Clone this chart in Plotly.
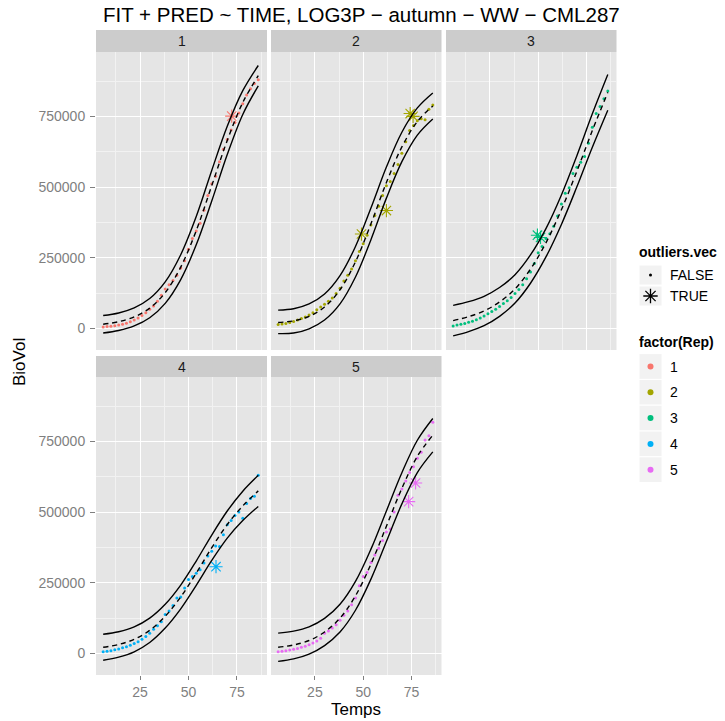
import plotly.graph_objects as go

# ---------------- data ----------------
rep_labels = ["1", "2", "3", "4", "5"]
rep_colors = ["#F8766D", "#A3A500", "#00BF7D", "#00B0F6", "#E76BF3"]

x_ticks = [25, 50, 75]
x_tick_labels = ["25", "50", "75"]
y_ticks = [0, 250000, 500000, 750000]
y_tick_labels = ["0", "250000", "500000", "750000"]

# fitted LOG3P curve with lower / upper prediction bounds
curve_time = [6, 14, 22, 30, 38, 46, 54, 62, 70, 78, 86]

fit_1 = [15000, 24000, 41000, 72000, 127000, 217000, 346000, 505000, 665000, 799000, 894000]
upr_1 = [46000, 55000, 73000, 106000, 165000, 261000, 396000, 559000, 715000, 841000, 930000]
lwr_1 = [-16000, -7000, 9000, 38000, 89000, 173000, 296000, 451000, 615000, 757000, 858000]

fit_2 = [21000, 27000, 43000, 76000, 137000, 236000, 370000, 516000, 642000, 732000, 787000]
upr_2 = [65000, 70000, 87000, 122000, 187000, 290000, 426000, 571000, 694000, 780000, 833000]
lwr_2 = [-18000, -16000, -1000, 30000, 87000, 182000, 314000, 461000, 590000, 684000, 741000]

fit_3 = [28000, 42000, 62000, 94000, 140000, 210000, 303000, 420000, 556000, 700000, 835000]
upr_3 = [82000, 95000, 114000, 145000, 190000, 260000, 353000, 472000, 611000, 759000, 898000]
lwr_3 = [-26000, -11000, 10000, 43000, 90000, 160000, 253000, 368000, 501000, 641000, 772000]

fit_4 = [22000, 32000, 50000, 82000, 132000, 200000, 284000, 374000, 456000, 522000, 575000]
upr_4 = [68000, 77000, 94000, 125000, 174000, 242000, 327000, 419000, 504000, 574000, 630000]
lwr_4 = [-24000, -13000, 6000, 39000, 90000, 158000, 241000, 329000, 408000, 470000, 520000]

fit_5 = [22000, 30000, 46000, 76000, 125000, 204000, 316000, 450000, 584000, 697000, 772000]
upr_5 = [72000, 79000, 94000, 124000, 174000, 255000, 369000, 504000, 639000, 754000, 831000]
lwr_5 = [-28000, -19000, -2000, 28000, 76000, 153000, 263000, 396000, 529000, 640000, 713000]

# observed BioVol (outliers.vec == FALSE)
obs_time = [6, 8, 10, 12, 14, 16, 18, 20, 22, 24,
            26, 28, 30, 32, 34, 36, 38, 40, 42, 44,
            46, 48, 50, 52, 54, 56, 58, 60, 62, 64,
            66, 68, 70, 72, 74, 76, 78, 80, 82, 84, 86]

obs_1 = [5000, 7000, 8000, 10000, 12000, 15000, 19000, 24000, 30000, 37000,
         46000, 56000, 68000, 80000, 96000, 118000, 140000, 155000, 170000, 188000,
         214000, 240000, 280000, 318000, 345000, 372000, 418000, 470000, 512000, 538000,
         590000, 634000, 668000, 702000, 728000, 762000, 795000, 826000, 848000, 866000, 880000]
obs_2 = [14000, 16000, 18000, 21000, 25000, 30000, 35000, 41000, 48000, 56000,
         66000, 76000, 86000, 96000, 108000, 124000, 142000, 168000, 188000, 210000,
         240000, 272000, 300000, 330000, 366000, 400000, 432000, 470000, 505000, 520000,
         548000, 580000, 620000, 660000, 700000, 718000, 735000, 742000, 738000, 775000, 790000]
obs_3 = [9000, 12000, 15000, 18000, 22000, 26000, 31000, 37000, 44000, 52000,
         60000, 68000, 78000, 88000, 98000, 110000, 124000, 138000, 155000, 176000,
         200000, 230000, 268000, 290000, 318000, 335000, 362000, 398000, 440000, 478000,
         498000, 548000, 570000, 588000, 608000, 655000, 712000, 760000, 785000, 812000, 840000]
obs_4 = [6000, 8000, 10000, 13000, 16000, 20000, 24000, 29000, 35000, 42000,
         50000, 60000, 72000, 86000, 98000, 112000, 138000, 150000, 170000, 196000,
         200000, 232000, 262000, 272000, 284000, 296000, 320000, 345000, 362000, 380000,
         378000, 420000, 455000, 470000, 488000, 500000, 478000, 530000, 548000, 556000, 630000]
obs_5 = [6000, 8000, 10000, 12000, 15000, 18000, 22000, 26000, 31000, 37000,
         44000, 54000, 72000, 80000, 90000, 102000, 118000, 135000, 150000, 172000,
         196000, 240000, 272000, 286000, 322000, 348000, 372000, 400000, 430000, 440000,
         500000, 560000, 582000, 610000, 640000, 660000, 690000, 712000, 755000, 770000, 818000]

# outliers (outliers.vec == TRUE)
out_time_1 = [72.3]
out_val_1 = [751000]
out_time_2 = [49.1, 62.0, 74.3, 75.8]
out_val_2 = [334000, 417000, 760000, 750000]
out_time_3 = [49.6, 51.2]
out_val_3 = [330000, 322000]
out_time_4 = [64.2]
out_val_4 = [307000]
out_time_5 = [73.5, 77.1]
out_val_5 = [537000, 603000]

fits = [fit_1, fit_2, fit_3, fit_4, fit_5]
uprs = [upr_1, upr_2, upr_3, upr_4, upr_5]
lwrs = [lwr_1, lwr_2, lwr_3, lwr_4, lwr_5]
obss = [obs_1, obs_2, obs_3, obs_4, obs_5]
out_times = [out_time_1, out_time_2, out_time_3, out_time_4, out_time_5]
out_vals = [out_val_1, out_val_2, out_val_3, out_val_4, out_val_5]

# ---------------- layout helpers ----------------
W, H = 725, 721
FONT = "Liberation Sans, Arial, Helvetica, sans-serif"


def fx(x):
    return x / W


def fy(y):
    return 1 - y / H


col_px = [(96, 267), (271, 441.5), (446, 616.5)]
row_px = [(52, 350), (377, 675)]
strip_px = [(30, 52), (356, 377)]
cells = [(0, 0), (1, 0), (2, 0), (0, 1), (1, 1)]

fig = go.Figure()
axes = {}
shapes = []
annotations = []

for i, (c, r) in enumerate(cells):
    n = i + 1
    sfx = "" if n == 1 else str(n)
    x0, x1 = col_px[c]
    y0, y1 = row_px[r]
    s0, s1 = strip_px[r]
    show_x = r == 1
    show_y = c == 0

    axes["xaxis" + sfx] = dict(
        domain=[fx(x0), fx(x1)], range=[2.3, 90.5], anchor="y" + sfx,
        tickvals=x_ticks, ticktext=x_tick_labels, showticklabels=show_x,
        ticks="outside" if show_x else "", ticklen=4, tickwidth=1, tickcolor="#7F7F7F",
        tickfont=dict(family=FONT, size=14, color="#7F7F7F"),
        showgrid=True, gridcolor="#FFFFFF", gridwidth=1.2,
        zeroline=False, showline=False, fixedrange=True,
        minor=dict(tickvals=[12.5, 37.5, 62.5, 87.5], showgrid=True,
                   gridcolor="#F2F2F2", gridwidth=0.6, ticks=""),
    )
    axes["yaxis" + sfx] = dict(
        domain=[fy(y1), fy(y0)], range=[-76000, 977700], anchor="x" + sfx,
        tickvals=y_ticks, ticktext=y_tick_labels, showticklabels=show_y,
        ticks="outside" if show_y else "", ticklen=5, tickwidth=1, tickcolor="#7F7F7F",
        ticklabelstandoff=2,
        tickfont=dict(family=FONT, size=14, color="#7F7F7F"),
        showgrid=True, gridcolor="#FFFFFF", gridwidth=1.2,
        zeroline=False, showline=False, fixedrange=True,
        minor=dict(tickvals=[125000, 375000, 625000, 875000], showgrid=True,
                   gridcolor="#F2F2F2", gridwidth=0.6, ticks=""),
    )

    # panel background and strip
    shapes.append(dict(type="rect", xref="paper", yref="paper", layer="below",
                       x0=fx(x0), x1=fx(x1), y0=fy(y1), y1=fy(y0),
                       fillcolor="#E5E5E5", line=dict(width=0)))
    shapes.append(dict(type="rect", xref="paper", yref="paper", layer="below",
                       x0=fx(x0), x1=fx(x1), y0=fy(s1), y1=fy(s0),
                       fillcolor="#CCCCCC", line=dict(width=0)))
    annotations.append(dict(text=rep_labels[i], xref="paper", yref="paper",
                            x=fx((x0 + x1) / 2), y=fy((s0 + s1) / 2),
                            xanchor="center", yanchor="middle", showarrow=False,
                            font=dict(family=FONT, size=14, color="#1A1A1A")))

    xa, ya = "x" + sfx, "y" + sfx
    col = rep_colors[i]
    fig.add_trace(go.Scatter(x=obs_time, y=obss[i], mode="markers", xaxis=xa, yaxis=ya,
                             marker=dict(size=3, color=col, line=dict(width=0)),
                             showlegend=False, hoverinfo="skip"))
    # open symbols take their stroke colour from marker.color
    fig.add_trace(go.Scatter(x=out_times[i], y=out_vals[i], mode="markers", xaxis=xa, yaxis=ya,
                             marker=dict(symbol="asterisk-open", size=11, color=col,
                                         line=dict(color=col, width=1.1)),
                             showlegend=False, hoverinfo="skip"))
    for band in (lwrs[i], uprs[i]):
        fig.add_trace(go.Scatter(x=curve_time, y=band, mode="lines", xaxis=xa, yaxis=ya,
                                 line=dict(color="black", width=1.4, shape="spline"),
                                 showlegend=False, hoverinfo="skip"))
    fig.add_trace(go.Scatter(x=curve_time, y=fits[i], mode="lines", xaxis=xa, yaxis=ya,
                             line=dict(color="black", width=1.4, shape="spline", dash="5px,4px"),
                             showlegend=False, hoverinfo="skip"))

# ---------------- legend (drawn on a pixel-scaled overlay axis) ----------------
axes["xaxis6"] = dict(domain=[0, 1], range=[0, W], anchor="y6", visible=False, fixedrange=True)
axes["yaxis6"] = dict(domain=[0, 1], range=[H, 0], anchor="x6", visible=False, fixedrange=True)

key_x0, key_x1 = 639, 662
key_cx = (key_x0 + key_x1) / 2
label_x = 668

annotations.append(dict(text="<b>outliers.vec</b>", xref="paper", yref="paper",
                        x=fx(637), y=fy(252), xanchor="left", yanchor="middle",
                        showarrow=False, font=dict(family=FONT, size=14, color="black")))
shape_keys = [("FALSE", 275), ("TRUE", 296)]
for label, cy in shape_keys:
    shapes.append(dict(type="rect", xref="paper", yref="paper", layer="below",
                       x0=fx(key_x0), x1=fx(key_x1), y0=fy(cy + 10), y1=fy(cy - 10),
                       fillcolor="#F2F2F2", line=dict(color="white", width=1)))
    annotations.append(dict(text=label, xref="paper", yref="paper",
                            x=fx(label_x), y=fy(cy), xanchor="left", yanchor="middle",
                            showarrow=False, font=dict(family=FONT, size=14, color="black")))
fig.add_trace(go.Scatter(x=[key_cx], y=[shape_keys[0][1]], mode="markers", xaxis="x6", yaxis="y6",
                         marker=dict(size=3, color="black"), showlegend=False, hoverinfo="skip"))
fig.add_trace(go.Scatter(x=[key_cx], y=[shape_keys[1][1]], mode="markers", xaxis="x6", yaxis="y6",
                         marker=dict(symbol="asterisk-open", size=12, color="black",
                                     line=dict(color="black", width=1.3)),
                         showlegend=False, hoverinfo="skip"))

annotations.append(dict(text="<b>factor(Rep)</b>", xref="paper", yref="paper",
                        x=fx(637), y=fy(342), xanchor="left", yanchor="middle",
                        showarrow=False, font=dict(family=FONT, size=14, color="black")))
rep_key_y = [366.5, 392.3, 418.1, 443.9, 469.7]
for lab, colr, cy in zip(rep_labels, rep_colors, rep_key_y):
    shapes.append(dict(type="rect", xref="paper", yref="paper", layer="below",
                       x0=fx(key_x0), x1=fx(key_x1), y0=fy(cy + 12.9), y1=fy(cy - 12.9),
                       fillcolor="#F2F2F2", line=dict(color="white", width=1)))
    annotations.append(dict(text=lab, xref="paper", yref="paper",
                            x=fx(label_x), y=fy(cy), xanchor="left", yanchor="middle",
                            showarrow=False, font=dict(family=FONT, size=14, color="black")))
fig.add_trace(go.Scatter(x=[key_cx] * 5, y=rep_key_y, mode="markers", xaxis="x6", yaxis="y6",
                         marker=dict(size=6, color=rep_colors), showlegend=False, hoverinfo="skip"))

# ---------------- titles ----------------
annotations.append(dict(text="FIT + PRED ~ TIME, LOG3P − autumn − WW − CML287",
                        xref="paper", yref="paper", x=fx(361), y=fy(15),
                        xanchor="center", yanchor="middle", showarrow=False,
                        font=dict(family=FONT, size=20.5, color="black")))
annotations.append(dict(text="Temps", xref="paper", yref="paper", x=fx(356), y=fy(709),
                        xanchor="center", yanchor="middle", showarrow=False,
                        font=dict(family=FONT, size=17, color="black")))
annotations.append(dict(text="BioVol", xref="paper", yref="paper", x=fx(19), y=fy(362),
                        xanchor="center", yanchor="middle", showarrow=False, textangle=-90,
                        font=dict(family=FONT, size=17, color="black")))

fig.update_layout(
    width=W, height=H,
    margin=dict(l=0, r=0, t=0, b=0),
    paper_bgcolor="white", plot_bgcolor="rgba(0,0,0,0)",
    showlegend=False,
    shapes=shapes, annotations=annotations,
    **axes,
)

fig.write_html("out.html")
